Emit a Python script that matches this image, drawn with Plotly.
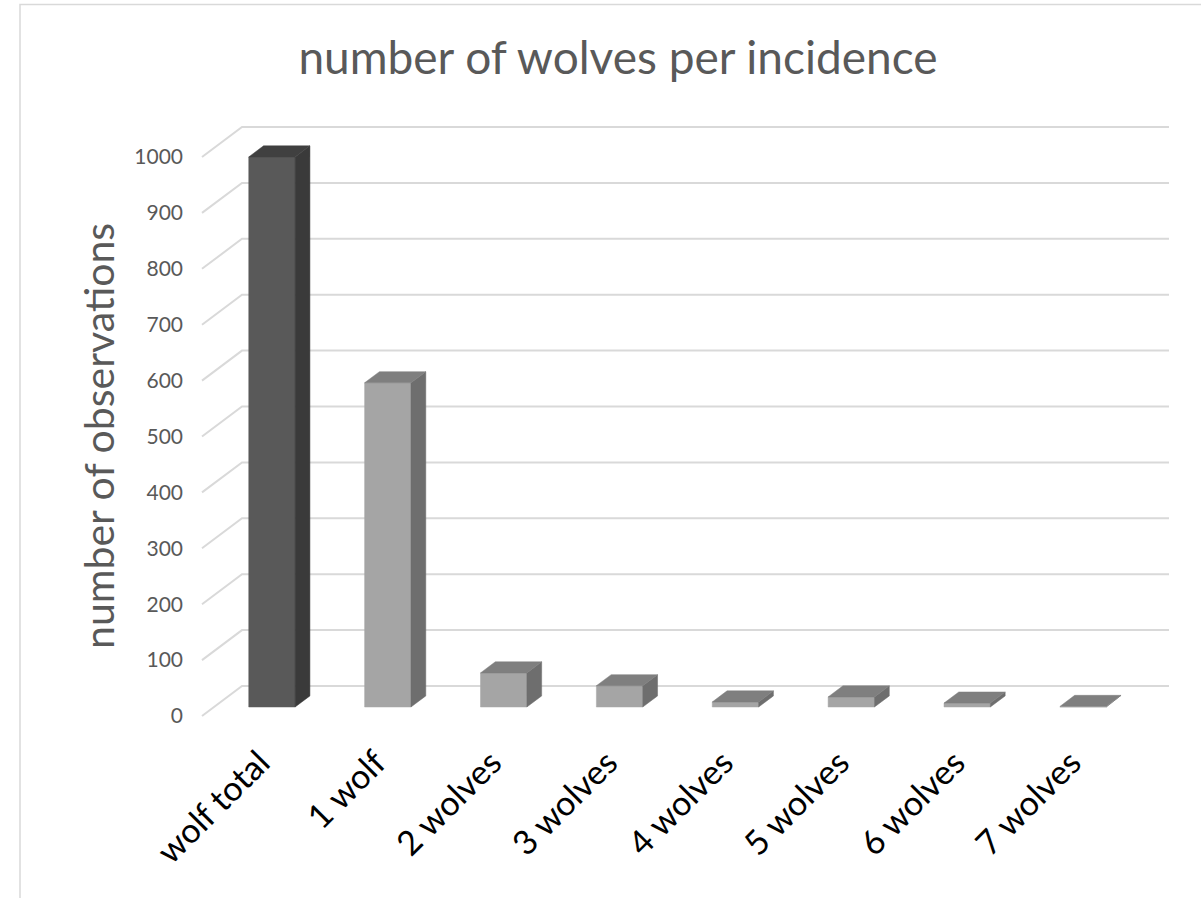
import plotly.graph_objects as go

# ---- data ----
categories = ["wolf total", "1 wolf", "2 wolves", "3 wolves", "4 wolves", "5 wolves", "6 wolves", "7 wolves"]
observations = [984, 580, 61, 38, 9, 18, 7, 1]
y_ticks = [0, 100, 200, 300, 400, 500, 600, 700, 800, 900, 1000]

# ---- layout geometry (pixels) ----
W, H = 1201, 898
PL, PR, PT, PB = 184, 1180, 100, 735          # plot area edges
X_FRONT0, CAT_PX = 202, 115.875                # front plane: x=-0.5 at 202px, px per category
Y_ZERO, PX_PER_UNIT = 716, 0.559               # front plane: y=0 at 716px
DEPTH_PX = (40, 30)                            # depth vector (right, up) in px

xmin = (PL - X_FRONT0) / CAT_PX - 0.5
xmax = (PR - X_FRONT0) / CAT_PX - 0.5
ymax = (Y_ZERO - PT) / PX_PER_UNIT
ymin = (Y_ZERO - PB) / PX_PER_UNIT
DX = DEPTH_PX[0] / CAT_PX
DY = DEPTH_PX[1] / PX_PER_UNIT

n = len(categories)
fig = go.Figure()

# back wall gridlines + floor diagonals
gx, gy = [], []
for v in y_ticks:
    gx += [-0.5, -0.5 + DX, n - 0.5 + DX, None]
    gy += [v, v + DY, v + DY, None]
fig.add_trace(go.Scatter(x=gx, y=gy, mode="lines", line=dict(color="#d9d9d9", width=2),
                         hoverinfo="skip", showlegend=False))

# 3D-looking bars
hw = 0.2
d0, d1 = 0.3, 0.67
ox, oy = (d1 - d0) * DX, (d1 - d0) * DY
for i, v in enumerate(observations):
    if i == 0:
        cf, cs, ct = "#595959", "#3a3a3a", "#404040"
    else:
        cf, cs, ct = "#a5a5a5", "#6e6e6e", "#7f7f7f"
    x0 = i - hw + d0 * DX
    x1 = i + hw + d0 * DX
    y0 = d0 * DY
    y1 = v + d0 * DY
    faces = [
        ([x0, x1, x1, x0, x0], [y0, y0, y1, y1, y0], cf),
        ([x1, x1 + ox, x1 + ox, x1, x1], [y0, y0 + oy, y1 + oy, y1, y0], cs),
        ([x0, x1, x1 + ox, x0 + ox, x0], [y1, y1, y1 + oy, y1 + oy, y1], ct),
    ]
    for fx, fy, c in faces:
        fig.add_trace(go.Scatter(x=fx, y=fy, mode="lines", fill="toself", fillcolor=c,
                                 line=dict(color=c, width=0.5), hoverinfo="skip", showlegend=False))

FONT = "Lato"
fig.update_layout(
    width=W, height=H,
    margin=dict(l=PL, r=W - PR, t=PT, b=H - PB),
    plot_bgcolor="white", paper_bgcolor="white",
    showlegend=False,
    title=dict(text="number of wolves per incidence", x=618 / W, xref="container", xanchor="center",
               y=1 - 58 / H, yref="container", yanchor="middle",
               font=dict(family=FONT, size=46, color="#595959")),
    xaxis=dict(range=[xmin, xmax], tickvals=list(range(n)), ticktext=categories, tickangle=-45,
               showgrid=False, zeroline=False, showline=False, ticks="",
               tickfont=dict(family=FONT, size=34, color="#000000")),
    yaxis=dict(range=[ymin, ymax], tickvals=y_ticks, ticktext=[str(t) for t in y_ticks],
               showgrid=False, zeroline=False, showline=False, ticks="",
               tickfont=dict(family=FONT, size=21, color="#595959")),
    annotations=[dict(text="number of observations", textangle=-90, showarrow=False,
                      xref="paper", yref="paper",
                      x=(98 - PL) / (PR - PL), y=(PB - 436) / (PB - PT),
                      xanchor="center", yanchor="middle",
                      font=dict(family=FONT, size=41, color="#595959"))],
    shapes=[dict(type="path", xref="paper", yref="paper",
                 path=f"M {(20 - PL) / (PR - PL)} {(PB - 950) / (PB - PT)} "
                      f"L {(20 - PL) / (PR - PL)} {(PB - 4.5) / (PB - PT)} "
                      f"L {(1250 - PL) / (PR - PL)} {(PB - 4.5) / (PB - PT)}",
                 line=dict(color="#d9d9d9", width=1.5), layer="below")],
)

fig.write_html("out.html")
